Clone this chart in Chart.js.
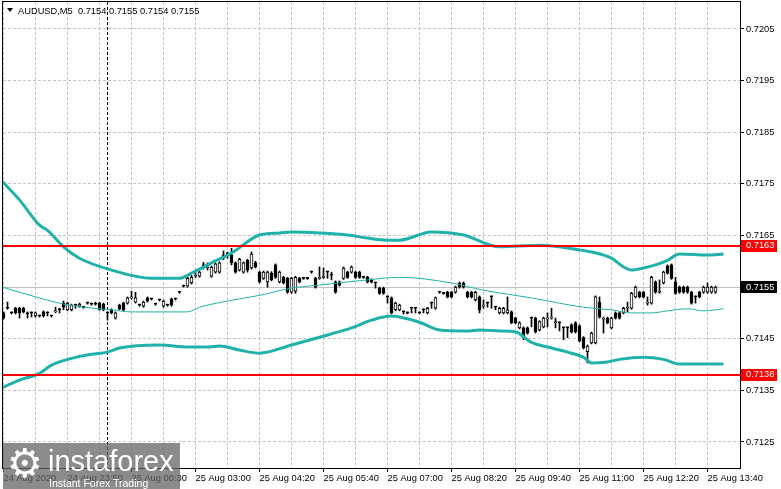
<!DOCTYPE html>
<html>
<head>
<meta charset="utf-8">
<title>AUDUSD,M5</title>
<script src="https://cdn.jsdelivr.net/npm/chart.js@4.4.1/dist/chart.umd.min.js"></script>
<style>
  html, body { margin: 0; padding: 0; background: #fff; }
  #wrap { position: relative; width: 781px; height: 489px; overflow: hidden; }
  #logo {
    position: absolute; left: 3px; top: 443px; width: 177px; height: 46px;
    background: rgba(100, 100, 100, 0.75); color: #fff; overflow: hidden;
    font-family: 'Liberation Sans', Arial, sans-serif;
  }
  #logo .gear { position: absolute; left: 4px; top: 0px; font: 40px/1 'DejaVu Sans', sans-serif; }
  #logo .name { position: absolute; left: 45px; top: 4px; font-size: 29px; line-height: 1; }
  #logo .sub { position: absolute; left: 46px; top: 35px; font-size: 10.5px; line-height: 1; }
</style>
</head>
<body>
<div id="wrap">
  <canvas id="chart" width="781" height="489"></canvas>
  <div id="logo"><span class="gear">⚙</span><span class="name">instaforex</span><span class="sub">Instant Forex Trading</span></div>
</div>
<script>
// ==========================
// DATA (AUDUSD M5, bar index 0..178)
// ==========================

const symbolTitle = 'AUDUSD,M5  0.7154 0.7155 0.7154 0.7155';

const timeLabels = [
    '24 Aug 2020', '24 Aug 23:50', '25 Aug 00:30', '25 Aug 03:00',
    '25 Aug 04:20', '25 Aug 05:40', '25 Aug 07:00', '25 Aug 08:20',
    '25 Aug 09:40', '25 Aug 11:00', '25 Aug 12:20', '25 Aug 13:40'
];

const yTickValues = [0.7125, 0.7135, 0.7145, 0.7155, 0.7165, 0.7175, 0.7185, 0.7195, 0.7205];
const yTickLabels = ['0.7125', '0.7135', '0.7145', '0.7155', '0.7165', '0.7175', '0.7185', '0.7195', '0.7205'];

const levels = [0.7163, 0.7138];
const levelLabels = ['0.7163', '0.7138'];
const lastPrice = 0.7155;
const lastPriceLabel = '0.7155';
const separatorBar = 26;

const opens = [
    0.71500,0.71509,0.71500,0.71509,0.71509,0.71509,0.71500,0.71500,0.71494,0.71494,
    0.71502,0.71500,0.71494,0.71502,0.71506,0.71519,0.71506,0.71506,0.71515,0.71513,
    0.71511,0.71519,0.71517,0.71519,0.71519,0.71517,0.71500,0.71506,0.71490,0.71515,
    0.71519,0.71519,0.71529,0.71521,0.71515,0.71513,0.71529,0.71527,0.71517,0.71525,
    0.71513,0.71515,0.71527,0.71527,0.71540,0.71552,0.71552,0.71558,0.71571,0.71571,
    0.71591,0.71587,0.71571,0.71579,0.71579,0.71610,0.71614,0.71612,0.71597,0.71583,
    0.71579,0.71602,0.71587,0.71597,0.71579,0.71567,0.71560,0.71577,0.71593,0.71560,
    0.71569,0.71567,0.71540,0.71542,0.71567,0.71567,0.71567,0.71579,0.71567,0.71567,
    0.71569,0.71579,0.71575,0.71560,0.71560,0.71567,0.71579,0.71579,0.71579,0.71579,
    0.71569,0.71569,0.71564,0.71558,0.71548,0.71548,0.71531,0.71529,0.71506,0.71506,
    0.71502,0.71500,0.71509,0.71509,0.71500,0.71506,0.71500,0.71519,0.71509,0.71540,
    0.71538,0.71540,0.71540,0.71540,0.71558,0.71558,0.71540,0.71540,0.71525,0.71531,
    0.71513,0.71519,0.71531,0.71511,0.71500,0.71500,0.71500,0.71502,0.71490,0.71471,
    0.71471,0.71471,0.71490,0.71490,0.71467,0.71473,0.71488,0.71490,0.71481,0.71481,
    0.71471,0.71471,0.71477,0.71481,0.71475,0.71452,0.71425,0.71442,0.71442,0.71521,
    0.71488,0.71490,0.71471,0.71500,0.71500,0.71500,0.71509,0.71509,0.71531,0.71540,
    0.71540,0.71519,0.71519,0.71560,0.71540,0.71558,0.71591,0.71593,0.71560,0.71550,
    0.71550,0.71550,0.71540,0.71531,0.71540,0.71540,0.71540,0.71540,0.71540
];

const highs = [
    0.71502,0.71521,0.71502,0.71511,0.71511,0.71511,0.71502,0.71502,0.71502,0.71496,
    0.71504,0.71502,0.71496,0.71511,0.71509,0.71523,0.71521,0.71517,0.71517,0.71519,
    0.71513,0.71521,0.71519,0.71521,0.71521,0.71519,0.71502,0.71508,0.71502,0.71517,
    0.71521,0.71531,0.71542,0.71540,0.71517,0.71523,0.71531,0.71529,0.71519,0.71527,
    0.71525,0.71517,0.71529,0.71529,0.71542,0.71554,0.71569,0.71573,0.71583,0.71581,
    0.71598,0.71597,0.71591,0.71597,0.71599,0.71620,0.71618,0.71625,0.71599,0.71606,
    0.71599,0.71604,0.71618,0.71600,0.71581,0.71581,0.71581,0.71580,0.71595,0.71581,
    0.71571,0.71569,0.71569,0.71571,0.71569,0.71569,0.71569,0.71581,0.71569,0.71589,
    0.71587,0.71581,0.71579,0.71562,0.71562,0.71589,0.71581,0.71591,0.71581,0.71581,
    0.71571,0.71571,0.71566,0.71560,0.71550,0.71550,0.71533,0.71531,0.71521,0.71517,
    0.71504,0.71502,0.71511,0.71511,0.71502,0.71508,0.71511,0.71521,0.71531,0.71542,
    0.71540,0.71542,0.71542,0.71552,0.71560,0.71560,0.71542,0.71542,0.71542,0.71533,
    0.71525,0.71521,0.71533,0.71513,0.71511,0.71511,0.71531,0.71504,0.71492,0.71483,
    0.71473,0.71473,0.71492,0.71492,0.71485,0.71492,0.71500,0.71509,0.71490,0.71483,
    0.71473,0.71473,0.71479,0.71483,0.71477,0.71454,0.71438,0.71463,0.71533,0.71531,
    0.71492,0.71492,0.71492,0.71502,0.71502,0.71511,0.71521,0.71540,0.71552,0.71542,
    0.71542,0.71531,0.71571,0.71562,0.71564,0.71581,0.71593,0.71595,0.71569,0.71552,
    0.71552,0.71552,0.71542,0.71533,0.71542,0.71552,0.71558,0.71552,0.71552
];

const lows = [
    0.71488,0.71507,0.71498,0.71498,0.71490,0.71500,0.71490,0.71492,0.71492,0.71492,
    0.71492,0.71494,0.71492,0.71500,0.71500,0.71506,0.71504,0.71504,0.71509,0.71511,
    0.71509,0.71517,0.71515,0.71515,0.71505,0.71504,0.71486,0.71498,0.71488,0.71506,
    0.71504,0.71517,0.71527,0.71519,0.71513,0.71511,0.71521,0.71525,0.71515,0.71523,
    0.71511,0.71513,0.71513,0.71525,0.71538,0.71550,0.71550,0.71556,0.71569,0.71569,
    0.71585,0.71583,0.71569,0.71577,0.71577,0.71603,0.71606,0.71593,0.71577,0.71581,
    0.71577,0.71579,0.71585,0.71587,0.71558,0.71565,0.71550,0.71562,0.71567,0.71558,
    0.71556,0.71538,0.71538,0.71538,0.71558,0.71565,0.71565,0.71577,0.71548,0.71565,
    0.71567,0.71567,0.71564,0.71538,0.71552,0.71565,0.71567,0.71577,0.71567,0.71567,
    0.71567,0.71558,0.71558,0.71548,0.71536,0.71536,0.71519,0.71498,0.71504,0.71504,
    0.71498,0.71498,0.71500,0.71500,0.71498,0.71500,0.71498,0.71509,0.71507,0.71538,
    0.71536,0.71529,0.71529,0.71538,0.71548,0.71548,0.71529,0.71529,0.71523,0.71500,
    0.71509,0.71511,0.71509,0.71506,0.71498,0.71498,0.71498,0.71479,0.71479,0.71469,
    0.71448,0.71459,0.71473,0.71461,0.71465,0.71471,0.71473,0.71488,0.71471,0.71465,
    0.71448,0.71452,0.71461,0.71461,0.71444,0.71430,0.71403,0.71440,0.71440,0.71490,
    0.71461,0.71479,0.71469,0.71488,0.71488,0.71498,0.71502,0.71507,0.71529,0.71529,
    0.71529,0.71515,0.71517,0.71538,0.71538,0.71556,0.71575,0.71565,0.71536,0.71538,
    0.71538,0.71538,0.71517,0.71519,0.71529,0.71538,0.71538,0.71538,0.71538
];

const closes = [
    0.71490,0.71509,0.71500,0.71500,0.71500,0.71502,0.71498,0.71500,0.71500,0.71494,
    0.71494,0.71500,0.71494,0.71504,0.71506,0.71511,0.71519,0.71515,0.71515,0.71517,
    0.71511,0.71519,0.71517,0.71517,0.71507,0.71506,0.71500,0.71500,0.71500,0.71508,
    0.71506,0.71529,0.71531,0.71529,0.71515,0.71521,0.71523,0.71527,0.71517,0.71525,
    0.71523,0.71515,0.71515,0.71527,0.71540,0.71552,0.71567,0.71569,0.71573,0.71579,
    0.71591,0.71589,0.71589,0.71595,0.71597,0.71610,0.71614,0.71597,0.71579,0.71604,
    0.71597,0.71583,0.71614,0.71589,0.71560,0.71579,0.71579,0.71564,0.71569,0.71579,
    0.71558,0.71540,0.71567,0.71569,0.71560,0.71567,0.71567,0.71579,0.71550,0.71569,
    0.71571,0.71579,0.71573,0.71540,0.71554,0.71587,0.71569,0.71589,0.71569,0.71569,
    0.71569,0.71560,0.71560,0.71558,0.71538,0.71538,0.71531,0.71500,0.71519,0.71515,
    0.71502,0.71500,0.71509,0.71509,0.71500,0.71506,0.71509,0.71519,0.71529,0.71540,
    0.71538,0.71531,0.71531,0.71550,0.71550,0.71550,0.71531,0.71531,0.71540,0.71506,
    0.71515,0.71519,0.71531,0.71511,0.71509,0.71509,0.71506,0.71481,0.71481,0.71481,
    0.71452,0.71461,0.71490,0.71463,0.71483,0.71490,0.71490,0.71492,0.71483,0.71481,
    0.71471,0.71471,0.71463,0.71463,0.71446,0.71432,0.71436,0.71461,0.71531,0.71492,
    0.71490,0.71481,0.71490,0.71490,0.71490,0.71509,0.71511,0.71538,0.71550,0.71531,
    0.71531,0.71521,0.71569,0.71540,0.71542,0.71579,0.71577,0.71567,0.71538,0.71540,
    0.71540,0.71540,0.71519,0.71531,0.71531,0.71550,0.71550,0.71550,0.71550
];

// Bollinger bands, [bar, price]
const bandUpper = [
    [-0.2,0.71754],[4,0.71719],[9,0.71670],[11,0.71660],[15,0.71628],[19,0.71606],
    [27,0.71583],[37,0.71567],[44,0.71567],[47,0.71577],[52,0.71597],[57,0.71616],
    [64,0.71651],[69,0.71655],[72,0.71657],[79,0.71655],[86,0.71651],[91,0.71645],
    [96,0.71641],[99,0.71641],[107,0.71657],[115,0.71651],[124,0.71628],[134,0.71631],
    [144,0.71622],[147,0.71618],[152,0.71606],[155,0.71589],[157,0.71583],[160,0.71587],
    [163,0.71593],[166,0.71602],[169,0.71614],[176,0.71612],[180,0.71614]
];
const bandMiddle = [
    [-0.2,0.71550],[4,0.71540],[9,0.71529],[15,0.71517],[20,0.71511],[27,0.71506],
    [32,0.71502],[46,0.71502],[49,0.71511],[56,0.71523],[64,0.71534],[72,0.71548],
    [79,0.71554],[91,0.71564],[99,0.71569],[112,0.71558],[120,0.71544],[132,0.71529],
    [145,0.71511],[152,0.71506],[157,0.71500],[162,0.71500],[166,0.71504],[171,0.71508],
    [175,0.71504],[180,0.71508]
];
const bandLower = [
    [-0.2,0.71356],[4,0.71370],[9,0.71383],[12,0.71399],[17,0.71412],[22,0.71420],
    [26,0.71424],[29,0.71432],[39,0.71438],[46,0.71434],[51,0.71434],[54,0.71436],
    [59,0.71428],[64,0.71422],[72,0.71438],[79,0.71453],[87,0.71471],[92,0.71486],
    [97,0.71494],[99,0.71492],[104,0.71482],[109,0.71467],[116,0.71465],[119,0.71467],
    [124,0.71465],[128,0.71463],[132,0.71443],[137,0.71432],[141,0.71424],[145,0.71414],
    [147,0.71403],[151,0.71405],[154,0.71410],[160,0.71414],[165,0.71410],[169,0.71401],
    [180,0.71401]
];

// ==========================
// BUILD
// ==========================

const FONT = "'Liberation Sans', Arial, sans-serif";
const TEAL = '#20b2aa';

const bars = opens.map((o, i) => i);
const wickData = bars.map(i => ({ x: i, y: [lows[i], highs[i]] }));
const bodyData = bars.map(i => ({ x: i, y: [opens[i], closes[i]] }));
const bodyFill = bars.map(i => closes[i] > opens[i] ? '#ffffff' : '#000000');
const toPoints = arr => arr.map(p => ({ x: p[0], y: p[1] }));

const gridBars = [];
for (let b = 0; b <= 176; b += 8) gridBars.push(b);

const overlay = {
    id: 'overlay',
    beforeDatasetsDraw(chart) {
        const { ctx, chartArea: a, scales } = chart;
        ctx.save();
        // current price line
        const py = Math.round(scales.y.getPixelForValue(lastPrice)) + 0.5;
        ctx.strokeStyle = '#c0c0c0';
        ctx.lineWidth = 1;
        ctx.beginPath();
        ctx.moveTo(a.left, py);
        ctx.lineTo(a.right, py);
        ctx.stroke();
        // day separator
        const sx = Math.round(scales.x.getPixelForValue(separatorBar)) - 0.5;
        ctx.strokeStyle = '#000';
        ctx.setLineDash([3, 2]);
        ctx.beginPath();
        ctx.moveTo(sx, a.top);
        ctx.lineTo(sx, a.bottom);
        ctx.stroke();
        ctx.restore();
    },
    afterDraw(chart) {
        const { ctx, chartArea: a, scales } = chart;
        ctx.save();
        // horizontal levels
        ctx.strokeStyle = '#ff0000';
        ctx.lineWidth = 2;
        levels.forEach(v => {
            const y = Math.round(scales.y.getPixelForValue(v));
            ctx.beginPath();
            ctx.moveTo(a.left, y);
            ctx.lineTo(a.right, y);
            ctx.stroke();
        });
        // frame
        ctx.strokeStyle = '#000';
        ctx.lineWidth = 1;
        ctx.strokeRect(a.left - 0.5, a.top - 0.5, a.right - a.left + 1, a.bottom - a.top + 1);
        // price tags on the axis
        ctx.font = '9.3px ' + FONT;
        ctx.textAlign = 'left';
        ctx.textBaseline = 'middle';
        const tag = (v, text, bg) => {
            const y = scales.y.getPixelForValue(v);
            ctx.fillStyle = bg;
            ctx.fillRect(a.right + 1, Math.round(y) - 6, 36, 12);
            ctx.fillStyle = '#fff';
            ctx.fillText(text, a.right + 6, y);
        };
        levels.forEach((v, i) => tag(v, levelLabels[i], '#ff0000'));
        tag(lastPrice, lastPriceLabel, '#000000');
        // title
        ctx.fillStyle = '#000';
        ctx.beginPath();
        ctx.moveTo(7, 8);
        ctx.lineTo(13, 8);
        ctx.lineTo(10, 12);
        ctx.closePath();
        ctx.fill();
        ctx.fillText(symbolTitle, 18, 11);
        ctx.restore();
    }
};

new Chart(document.getElementById('chart'), {

    type: 'bar',

    data: {
        datasets: [
            {
                type: 'line',
                data: toPoints(bandUpper),
                borderColor: TEAL,
                borderWidth: 3,
                pointRadius: 0,
                cubicInterpolationMode: 'monotone',
                order: 0
            },
            {
                type: 'line',
                data: toPoints(bandLower),
                borderColor: TEAL,
                borderWidth: 3,
                pointRadius: 0,
                cubicInterpolationMode: 'monotone',
                order: 0
            },
            {
                type: 'line',
                data: toPoints(bandMiddle),
                borderColor: TEAL,
                borderWidth: 1,
                pointRadius: 0,
                cubicInterpolationMode: 'monotone',
                order: 0
            },
            {
                data: bodyData,
                backgroundColor: bodyFill,
                borderColor: '#000',
                borderWidth: 1,
                borderSkipped: false,
                barThickness: 3,
                minBarLength: 1,
                grouped: false,
                order: 1
            },
            {
                data: wickData,
                backgroundColor: '#000',
                borderWidth: 0,
                barThickness: 1,
                grouped: false,
                order: 2
            }
        ]
    },

    options: {
        responsive: false,
        animation: false,
        events: [],
        layout: { padding: { left: 3, top: 2, right: 0, bottom: 0 } },
        plugins: {
            legend: { display: false },
            tooltip: { enabled: false }
        },
        scales: {
            x: {
                type: 'linear',
                min: -0.125,
                max: 184.125,
                offset: false,
                grid: {
                    offset: false,
                    color: '#c4c4c4',
                    tickLength: 4,
                    tickColor: c => (c.tick && c.tick.value % 16 === 0) ? '#000' : 'rgba(0,0,0,0)'
                },
                border: { display: false, dash: [3, 2] },
                ticks: {
                    autoSkip: false,
                    maxRotation: 0,
                    minRotation: 0,
                    align: 'start',
                    padding: 1,
                    color: '#000',
                    font: { family: FONT, size: 9.3 },
                    callback: v => v % 16 === 0 ? timeLabels[v / 16] : ''
                },
                afterBuildTicks: s => { s.ticks = gridBars.map(v => ({ value: v })); },
                afterFit: s => { s.height = 21; s.paddingLeft = 0; s.paddingRight = 0; }
            },
            y: {
                position: 'right',
                min: 0.711996,
                max: 0.721023,
                beginAtZero: false,
                grid: {
                    color: '#c4c4c4',
                    tickLength: 4,
                    tickColor: '#000'
                },
                border: { display: false, dash: [3, 2] },
                ticks: {
                    padding: 2,
                    color: '#000',
                    font: { family: FONT, size: 9.3 },
                    callback: (v, i) => yTickLabels[i]
                },
                afterBuildTicks: s => { s.ticks = yTickValues.map(v => ({ value: v })); },
                afterFit: s => { s.width = 41; s.paddingTop = 0; s.paddingBottom = 0; }
            }
        }
    },

    plugins: [overlay]

});
</script>
</body>
</html>
